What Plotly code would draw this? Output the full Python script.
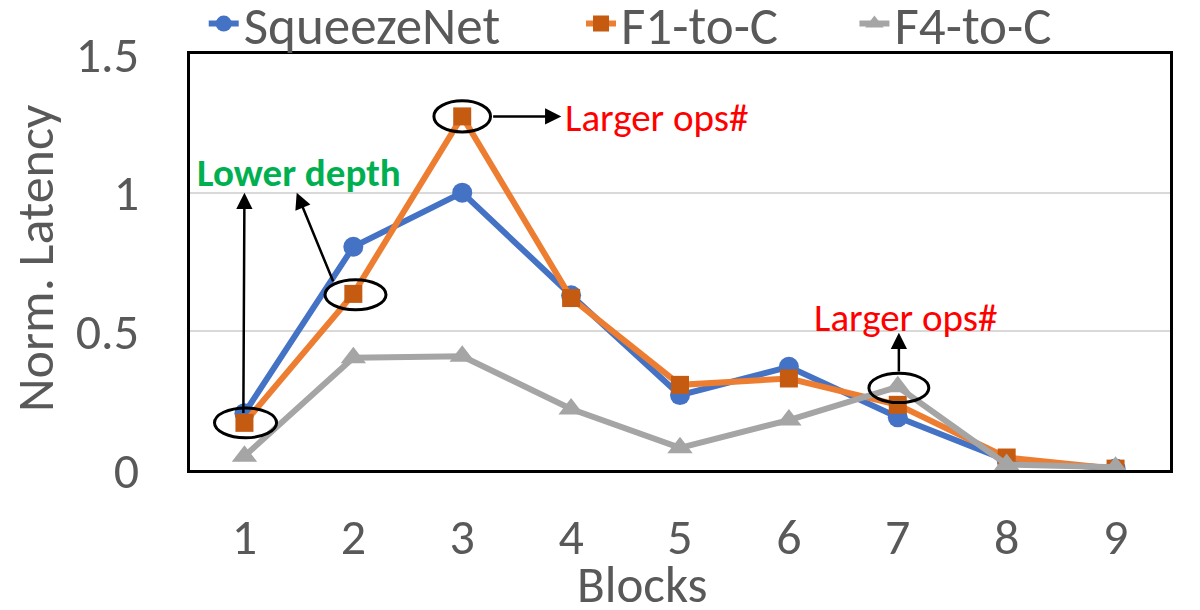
import plotly.graph_objects as go

blocks = [1, 2, 3, 4, 5, 6, 7, 8, 9]
block_labels = ["1", "2", "3", "4", "5", "6", "7", "8", "9"]
squeezenet = [0.205, 0.805, 1.0, 0.63, 0.27, 0.372, 0.19, 0.035, 0.005]
f1_to_c = [0.17, 0.635, 1.275, 0.62, 0.307, 0.33, 0.235, 0.045, 0.005]
f4_to_c = [0.05, 0.405, 0.41, 0.22, 0.08, 0.18, 0.30, 0.02, 0.01]

FONT = "Carlito, Calibri, Lato, sans-serif"
GREY = "#595959"

fig = go.Figure()
fig.add_trace(go.Scatter(x=blocks, y=squeezenet, name="SqueezeNet", mode="lines+markers",
                         legend="legend",
                         line=dict(color="#4472C4", width=6),
                         marker=dict(symbol="circle", size=20, color="#4472C4")))
fig.add_trace(go.Scatter(x=blocks, y=f1_to_c, name="F1-to-C", mode="lines+markers",
                         legend="legend2",
                         line=dict(color="#ED7D31", width=6),
                         marker=dict(symbol="square", size=18, color="#C55A11")))
fig.add_trace(go.Scatter(x=blocks, y=f4_to_c, name="F4-to-C", mode="lines+markers",
                         legend="legend3",
                         line=dict(color="#A5A5A5", width=6),
                         marker=dict(symbol="triangle-up", size=22, color="#A5A5A5")))

# ellipses around highlighted points (center x, center y, half width, half height)
ellipses = [(1.01, 0.17, 0.285, 0.054), (2.02, 0.632, 0.28, 0.054),
            (3.0, 1.275, 0.26, 0.056), (7.01, 0.296, 0.275, 0.053)]
for bx, by, hw, hh in ellipses:
    fig.add_shape(type="circle", xref="x", yref="y",
                  x0=bx - hw, x1=bx + hw, y0=by - hh, y1=by + hh,
                  line=dict(color="black", width=3))

arrow = dict(showarrow=True, arrowhead=2, arrowsize=1.3, arrowwidth=2.5, arrowcolor="black",
             xref="x", yref="y", axref="x", ayref="y", text="")
fig.add_annotation(x=1.0, y=1.0, ax=0.99, ay=0.2, **arrow)
fig.add_annotation(x=1.48, y=1.0, ax=1.82, ay=0.675, **arrow)
fig.add_annotation(x=3.91, y=1.275, ax=3.27, ay=1.275, **arrow)
fig.add_annotation(x=7.01, y=0.495, ax=7.01, ay=0.35, **arrow)

fig.add_annotation(x=1.5, y=1.072, xref="x", yref="y", text="<b>Lower depth</b>", showarrow=False,
                   font=dict(size=39, color="#00B050", family=FONT), xanchor="center", yanchor="middle")
fig.add_annotation(x=3.93, y=1.27, xref="x", yref="y", text="Larger ops#", showarrow=False,
                   font=dict(size=39, color="#FF0000", family=FONT), xanchor="left", yanchor="middle")
fig.add_annotation(x=7.08, y=0.55, xref="x", yref="y", text="Larger ops#", showarrow=False,
                   font=dict(size=39, color="#FF0000", family=FONT), xanchor="center", yanchor="middle")

# axis titles
fig.add_annotation(x=0.462, y=-0.275, xref="paper", yref="paper", text="Blocks", showarrow=False,
                   font=dict(size=51, color=GREY, family=FONT), xanchor="center", yanchor="middle")
fig.add_annotation(x=-0.158, y=0.51, xref="paper", yref="paper", text="Norm. Latency", showarrow=False,
                   textangle=-90, font=dict(size=52, color=GREY, family=FONT),
                   xanchor="center", yanchor="middle")

leg = dict(orientation="h", xanchor="left", y=1.073, yanchor="middle", visible=True,
           font=dict(size=53, color=GREY), bgcolor="rgba(0,0,0,0)")

fig.update_layout(
    width=1200, height=610,
    paper_bgcolor="white", plot_bgcolor="white",
    showlegend=True,
    margin=dict(l=182, r=38, t=46, b=148, autoexpand=False),
    font=dict(family=FONT, color=GREY, size=50),
    legend=dict(leg, x=0.014),
    legend2=dict(leg, x=0.399),
    legend3=dict(leg, x=0.678),
    xaxis=dict(range=[0.5, 9.5], tickvals=blocks, ticktext=block_labels,
               showgrid=False, zeroline=False, showline=True, linecolor="black", linewidth=3,
               mirror=True, ticks="", ticklabelstandoff=21,
               tickfont=dict(size=50, color=GREY)),
    yaxis=dict(range=[0, 1.5], tickvals=[0, 0.5, 1, 1.5], ticktext=["0", "0.5", "1", "1.5"],
               showgrid=True, gridcolor="#D9D9D9", gridwidth=2, zeroline=False,
               showline=True, linecolor="black", linewidth=3, mirror=True, ticks="",
               ticklabelstandoff=38, tickfont=dict(size=50, color=GREY)),
)

fig.write_html("out.html")
